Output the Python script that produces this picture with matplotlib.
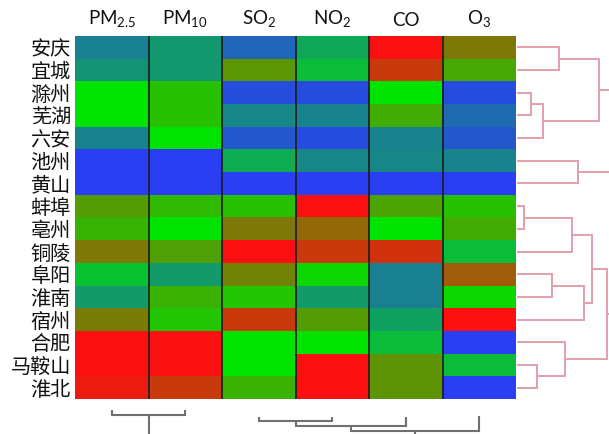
import numpy as np
import matplotlib
matplotlib.use('Agg')
import matplotlib.pyplot as plt
from matplotlib.colors import LinearSegmentedColormap

plt.rcParams['font.family'] = ['Noto Sans CJK SC', 'DejaVu Sans']
plt.rcParams['mathtext.fontset'] = 'custom'
plt.rcParams['mathtext.rm'] = 'Lato'
plt.rcParams['mathtext.it'] = 'Lato:italic'

cities = ['安庆', '宜城', '滁州', '芜湖', '六安', '池州', '黄山', '蚌埠',
          '亳州', '铜陵', '阜阳', '淮南', '宿州', '合肥', '马鞍山', '淮北']
pollutants = ['PM$_{2.5}$', 'PM$_{10}$', 'SO$_{2}$', 'NO$_{2}$', 'CO', 'O$_{3}$']

# scaled values 0 (blue) .. 0.5 (green) .. 1 (red), one list per pollutant
pm25 = [0.20, 0.26, 0.50, 0.50, 0.21, 0.00, 0.00, 0.67, 0.61, 0.75, 0.40, 0.28, 0.74, 1.00, 1.00, 0.97]
pm10 = [0.27, 0.27, 0.58, 0.58, 0.50, 0.00, 0.00, 0.60, 0.50, 0.66, 0.28, 0.62, 0.57, 1.00, 1.00, 0.90]
so2 = [0.12, 0.68, 0.05, 0.22, 0.08, 0.33, 0.00, 0.58, 0.75, 1.00, 0.73, 0.57, 0.90, 0.50, 0.50, 0.62]
no2 = [0.32, 0.38, 0.04, 0.21, 0.04, 0.22, 0.00, 1.00, 0.79, 0.90, 0.53, 0.28, 0.67, 0.50, 1.00, 1.00]
co = [1.00, 0.90, 0.50, 0.63, 0.21, 0.22, 0.00, 0.65, 0.50, 0.92, 0.20, 0.20, 0.30, 0.38, 0.69, 0.69]
o3 = [0.75, 0.64, 0.04, 0.14, 0.08, 0.21, 0.00, 0.58, 0.63, 0.38, 0.82, 0.53, 1.00, 0.00, 0.38, 0.00]

# row dendrogram: (child a, child b, height), new cluster ids start at 16
row_merges = [(2, 3, 14), (7, 8, 7.6), (14, 15, 20.6), (16, 4, 26.6), (10, 11, 35),
              (0, 1, 42.3), (13, 18, 48.3), (17, 9, 55), (5, 6, 61.6), (20, 12, 67.3),
              (23, 25, 75.3), (21, 19, 82.3), (26, 22, 90), (27, 24, 100), (29, 28, 115)]
# column dendrogram, new cluster ids start at 6
col_merges = [(0, 1, 6), (2, 3, 12), (7, 4, 17), (8, 5, 22), (6, 9, 35)]
col_leaf_base = [1, 1, 8, 8, 8, 7]

data = np.array([pm25, pm10, so2, no2, co, o3]).T

cmap = LinearSegmentedColormap.from_list('bgr', ['#2a3ef2', '#00e400', '#fa1010'])

W, H = 609, 434
fig = plt.figure(figsize=(W / 100, H / 100), dpi=100)

def px_axes(l, t, r, b):
    return fig.add_axes([l / W, 1 - b / H, (r - l) / W, (b - t) / H])

ax = px_axes(75, 36, 516, 399)
ax.imshow(data, cmap=cmap, vmin=0, vmax=1, aspect='auto', interpolation='nearest')
for x in np.arange(0.5, len(pollutants) - 1, 1):
    ax.axvline(x, color='#1c1c1c', lw=1.4, alpha=0.85)
ax.set_yticks(range(len(cities)))
ax.set_yticklabels(cities, fontsize=14.5, color='#111111')
ax.xaxis.tick_top()
ax.set_xticks(range(len(pollutants)))
ax.set_xticklabels(pollutants, fontsize=13.5, family=['Lato', 'DejaVu Sans'], color='#111111')
ax.tick_params(length=0, pad=3)
ax.tick_params(axis='x', pad=5)
for s in ax.spines.values():
    s.set_visible(False)


def draw_dendro(a, merges, leaf_pos, leaf_base, horizontal, color, lw):
    pos = list(leaf_pos)
    lev = list(leaf_base)
    for c1, c2, h in merges:
        for c in (c1, c2):
            if horizontal:
                a.plot([lev[c], h], [pos[c], pos[c]], color=color, lw=lw, solid_capstyle='butt')
            else:
                a.plot([pos[c], pos[c]], [lev[c], h], color=color, lw=lw, solid_capstyle='butt')
        if horizontal:
            a.plot([h, h], [pos[c1], pos[c2]], color=color, lw=lw, solid_capstyle='projecting')
        else:
            a.plot([pos[c1], pos[c2]], [h, h], color=color, lw=lw, solid_capstyle='projecting')
        pos.append((pos[c1] + pos[c2]) / 2)
        lev.append(h)


rax = px_axes(516, 36, 609, 399)
draw_dendro(rax, row_merges, range(len(cities)), [0] * len(cities), True, '#e2a0ab', 1.4)
rax.set_xlim(-0.7, 92.3)
rax.set_ylim(len(cities) - 0.5, -0.5)
rax.axis('off')

bax = px_axes(75, 405, 516, 434)
draw_dendro(bax, col_merges, range(len(pollutants)), col_leaf_base, False, '#707070', 1.5)
bax.set_xlim(-0.5, len(pollutants) - 0.5)
bax.set_ylim(25, -4)
bax.axis('off')

fig.savefig('out.png', dpi=100)
